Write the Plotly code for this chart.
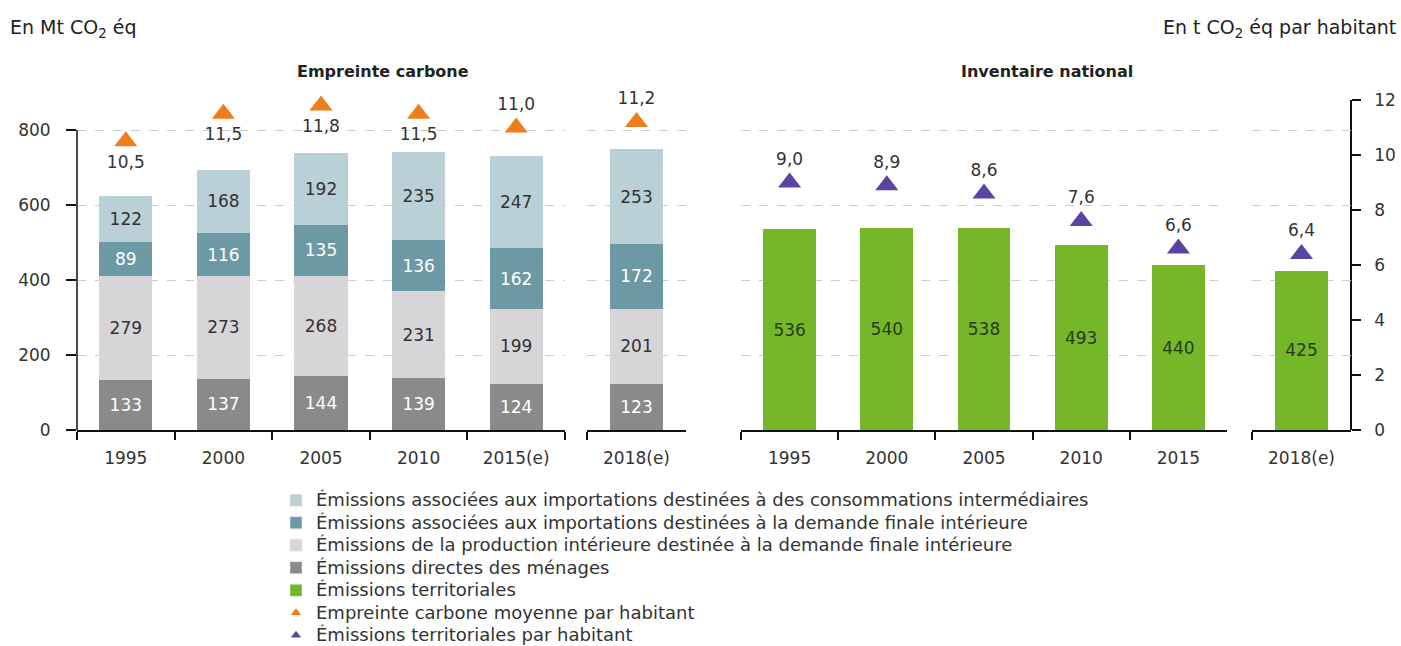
import plotly.graph_objects as go

W, H = 1401, 646
FONT = "DejaVu Sans, Verdana, sans-serif"

years_main = ["1995", "2000", "2005", "2010", "2015(e)"]
year_last = ["2018(e)"]
years_terr = ["1995", "2000", "2005", "2010", "2015"]

imp_inter = [122, 168, 192, 235, 247]
imp_inter_last = [253]
imp_final = [89, 116, 135, 136, 162]
imp_final_last = [172]
prod_dom = [279, 273, 268, 231, 199]
prod_dom_last = [201]
direct = [133, 137, 144, 139, 124]
direct_last = [123]

territorial = [536, 540, 538, 493, 440]
territorial_last = [425]

fp_per_cap = [10.5, 11.5, 11.8, 11.5, 11.0]
fp_per_cap_last = [11.2]
terr_per_cap = [9.0, 8.9, 8.6, 7.6, 6.6]
terr_per_cap_last = [6.4]

fp_label_pos = ["bottom center", "bottom center", "bottom center", "bottom center", "top center"]
fp_label_pos_last = ["top center"]

names = {
    "imp_inter": "Émissions associées aux importations destinées à des consommations intermédiaires",
    "imp_final": "Émissions associées aux importations destinées à la demande finale intérieure",
    "prod_dom": "Émissions de la production intérieure destinée à la demande finale intérieure",
    "direct": "Émissions directes des ménages",
    "terr": "Émissions territoriales",
    "fp": "Empreinte carbone moyenne par habitant",
    "tpc": "Émissions territoriales par habitant",
}
colors = {
    "imp_inter": "#b8d0d6",
    "imp_final": "#6d99a5",
    "prod_dom": "#d8d5d8",
    "direct": "#8a8a8a",
    "terr": "#76b72a",
    "fp": "#ee7d1b",
    "tpc": "#5a44a3",
}
txtcol = {"imp_inter": "#333333", "imp_final": "#ffffff", "prod_dom": "#333333",
          "direct": "#ffffff", "terr": "#2a3a18"}

def fr(v):
    return f"{v:.1f}".replace(".", ",")

fig = go.Figure()

stack = [("direct", direct, direct_last), ("prod_dom", prod_dom, prod_dom_last),
         ("imp_final", imp_final, imp_final_last), ("imp_inter", imp_inter, imp_inter_last)]
for key, vals, last in stack:
    for xa, cats, v in (("x", years_main, vals), ("x2", year_last, last)):
        fig.add_trace(go.Bar(
            x=cats, y=v, xaxis=xa, yaxis="y", name=names[key],
            marker=dict(color=colors[key], line=dict(width=0)),
            text=[str(a) for a in v], textposition="inside", insidetextanchor="middle",
            textangle=0, textfont=dict(color=txtcol[key], size=17, family=FONT),
            showlegend=False, hoverinfo="skip"))

for xa, cats, v in (("x3", years_terr, territorial), ("x4", year_last, territorial_last)):
    fig.add_trace(go.Bar(
        x=cats, y=v, xaxis=xa, yaxis="y", name=names["terr"],
        marker=dict(color=colors["terr"], line=dict(width=0)),
        text=[str(a) for a in v], textposition="inside", insidetextanchor="middle",
        textangle=0, textfont=dict(color=txtcol["terr"], size=17, family=FONT),
        showlegend=False, hoverinfo="skip"))

for xa, cats, v, pos in (("x", years_main, fp_per_cap, fp_label_pos),
                         ("x2", year_last, fp_per_cap_last, fp_label_pos_last)):
    fig.add_trace(go.Scatter(
        x=cats, y=v, xaxis=xa, yaxis="y2", mode="markers+text", name=names["fp"],
        marker=dict(symbol="triangle-up", size=20, color=colors["fp"]),
        text=[fr(a) for a in v], textposition=pos,
        textfont=dict(size=17, color="#333333", family=FONT),
        cliponaxis=False, showlegend=False, hoverinfo="skip"))

for xa, cats, v in (("x3", years_terr, terr_per_cap), ("x4", year_last, terr_per_cap_last)):
    fig.add_trace(go.Scatter(
        x=cats, y=v, xaxis=xa, yaxis="y2", mode="markers+text", name=names["tpc"],
        marker=dict(symbol="triangle-up", size=20, color=colors["tpc"]),
        text=[fr(a) for a in v], textposition="top center",
        textfont=dict(size=17, color="#333333", family=FONT),
        cliponaxis=False, showlegend=False, hoverinfo="skip"))

# legend entries
def lname(s):
    return "<span style='font-size:18px'>" + s + "</span>"

for key in ["imp_inter", "imp_final", "prod_dom", "direct", "terr"]:
    fig.add_trace(go.Bar(x=[None], y=[None], xaxis="x", yaxis="y", name=lname(names[key]),
                         marker=dict(color=colors[key]), showlegend=True))
for key in ["fp", "tpc"]:
    fig.add_trace(go.Scatter(x=[None], y=[None], xaxis="x", yaxis="y2", mode="markers",
                             name=lname(names[key]),
                             marker=dict(symbol="triangle-up", size=9, color=colors[key]),
                             showlegend=True))

def px(x):
    return x / W

def py(y):
    return 1 - y / H

ydom = [py(430), py(100)]
xstyle = dict(type="category", showline=True, linecolor="#111111", linewidth=1.5,
              ticks="outside", ticklen=8, tickcolor="#111111", tickwidth=1.5,
              tickson="boundaries", showgrid=False, zeroline=False, automargin=False,
              ticklabelstandoff=12,
              tickfont=dict(size=17, color="#333333", family=FONT),
              fixedrange=True)

fig.update_layout(
    width=W, height=H, autosize=False,
    margin=dict(l=0, r=0, t=0, b=0, autoexpand=False),
    paper_bgcolor="white", plot_bgcolor="white",
    barmode="stack", bargap=0.455,
    font=dict(family=FONT, color="#333333"),
    xaxis=dict(domain=[px(77), px(565)], anchor="y", **xstyle),
    xaxis2=dict(domain=[px(587), px(686)], anchor="y", **xstyle),
    xaxis3=dict(domain=[px(741), px(1227)], anchor="y", **xstyle),
    xaxis4=dict(domain=[px(1252), px(1351)], anchor="y", **xstyle),
    yaxis=dict(domain=ydom, range=[0, 880], tickvals=[0, 200, 400, 600, 800],
               showline=False, ticks="outside", ticklen=10, tickcolor="#111111", tickwidth=1.5,
               showgrid=True, gridcolor="#cccccc", griddash="dash", gridwidth=1,
               zeroline=False, automargin=False, anchor="x", ticklabelstandoff=12,
               tickfont=dict(size=17, color="#333333", family=FONT)),
    yaxis2=dict(range=[0, 12], dtick=2, overlaying="y", side="right", anchor="free",
                position=px(1351), showline=True, linecolor="#111111", linewidth=1.5,
                ticks="outside", ticklen=9, tickcolor="#111111", tickwidth=1.5,
                showgrid=False, zeroline=False, automargin=False, ticklabelstandoff=10,
                tickfont=dict(size=17, color="#333333", family=FONT)),
    legend=dict(x=px(276), y=py(484), xanchor="left", yanchor="top",
                traceorder="normal",
                font=dict(size=15, color="#333333", family=FONT), bgcolor="rgba(0,0,0,0)",
                tracegroupgap=0, itemclick=False, itemdoubleclick=False),
    showlegend=True,
)

# left axis line (from 0 to 800)
fig.add_shape(type="line", xref="paper", yref="y", x0=px(77), x1=px(77), y0=0, y1=800,
              line=dict(color="#111111", width=1.5))

ann = [
    dict(text="En Mt CO<sub>2</sub> éq", x=px(8), y=py(28), xanchor="left", yanchor="middle",
         font=dict(size=19, color="#222222", family=FONT)),
    dict(text="En t CO<sub>2</sub> éq par habitant", x=px(1398), y=py(28), xanchor="right",
         yanchor="middle", font=dict(size=19, color="#222222", family=FONT)),
    dict(text="<b>Empreinte carbone</b>", x=px(383), y=py(72), xanchor="center",
         yanchor="middle", font=dict(size=16, color="#222222", family=FONT)),
    dict(text="<b>Inventaire national</b>", x=px(1047), y=py(72), xanchor="center",
         yanchor="middle", font=dict(size=16, color="#222222", family=FONT)),
]
for a in ann:
    fig.add_annotation(xref="paper", yref="paper", showarrow=False, **a)

post = (
    "document.documentElement.style.margin='0';"
    "document.documentElement.style.overflow='hidden';"
    "document.body.style.margin='0';"
    "document.body.style.overflow='hidden';"
)
fig.write_html("out.html", config={"displayModeBar": False}, post_script=post)
